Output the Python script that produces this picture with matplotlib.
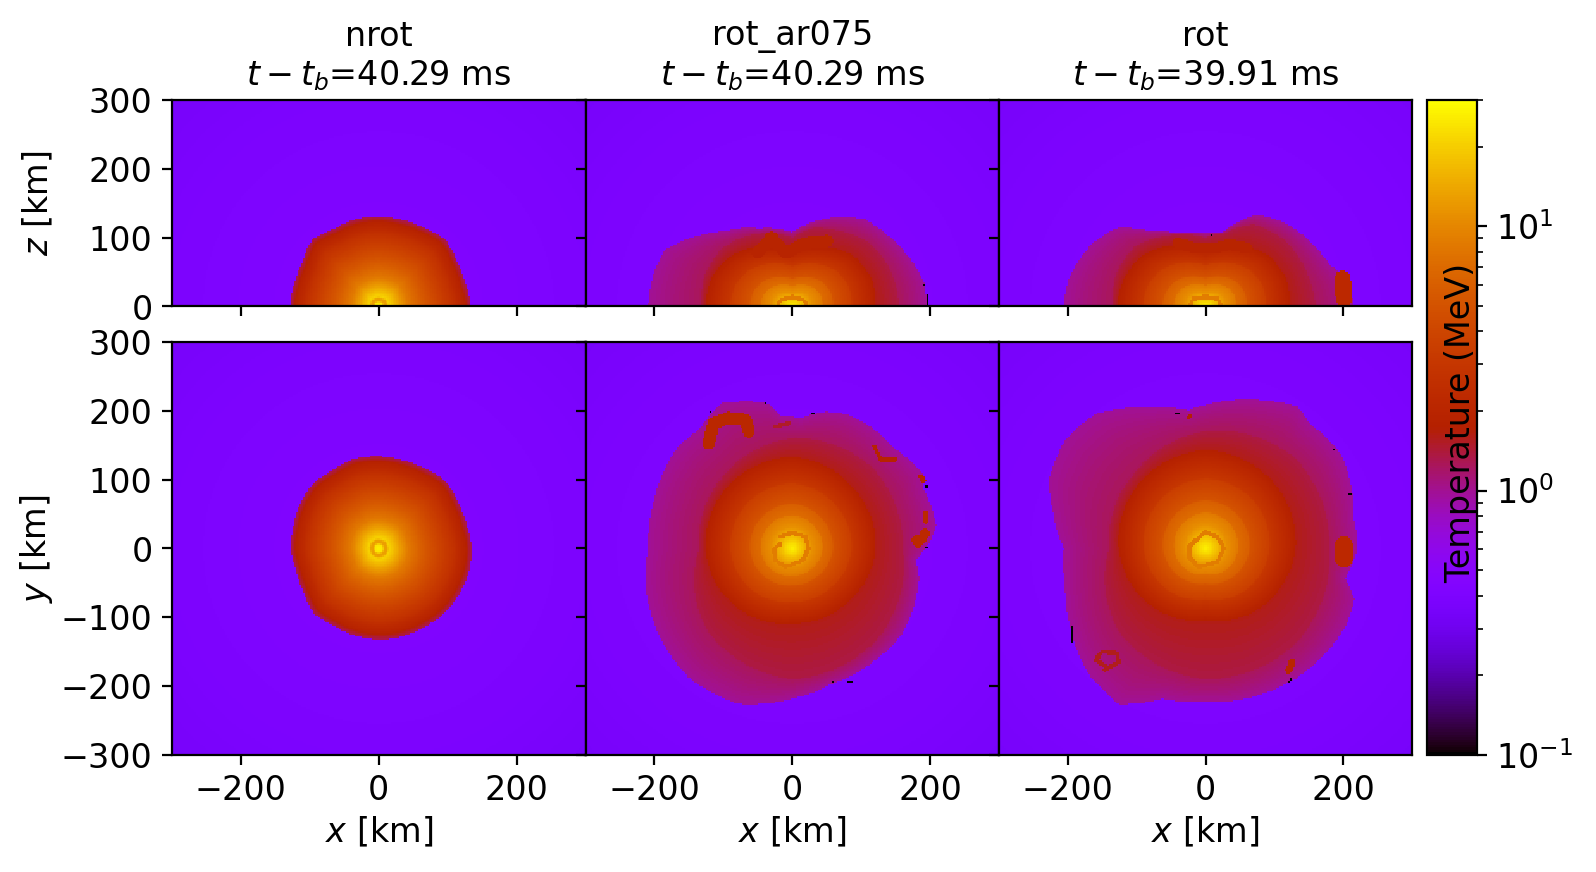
from __future__ import annotations

import numpy as np
import matplotlib
matplotlib.use("Agg")
import matplotlib.pyplot as plt
from matplotlib.colors import LogNorm

# everything below (km, deg, MeV)
run_names = ["nrot", "rot_ar075", "rot"]
bounce_times = [40.29, 40.29, 39.91]

# background temperature against radius
bg_r = [0, 130, 300, 430]
bg_T = [0.43, 0.42, 0.39, 0.35]

# temperature against scaled radius, inside the hot disc
nrot_prof_r = [0, 5, 8, 11, 14, 25, 40, 60, 80, 100, 110, 116, 121, 125]
nrot_prof_T = [27, 24, 13, 13, 21, 14.5, 8.5, 5.6, 3.9, 2.7, 2.1, 1.9, 1.5, 1.3]
rot_prof_r = [0, 8, 20, 30, 45, 46, 60, 62, 88, 90, 105, 118, 125]
rot_prof_T = [27, 22, 15, 11, 8.5, 7.2, 6.0, 5.0, 3.5, 3.0, 2.4, 1.95, 1.75]

# crimson layer and magenta envelope, inner and outer temperature
mid_T = [1.6, 1.35]
env_T = [1.25, 0.98]

# outer edge of each panel
nrot_xy_ang = [0, 15, 30, 45, 60, 75, 90, 105, 120, 135, 150, 165, 180, 195, 210, 225, 240, 255, 270, 285, 300, 315, 330, 345]
nrot_xy_out = [135, 132, 133, 138, 134, 133, 134, 135, 132, 134, 131, 128, 128, 124, 126, 133, 130, 131, 132, 132, 132, 134, 134, 135]
nrot_xz_ang = [0, 15, 30, 45, 60, 75, 90, 105, 120, 135, 150, 165, 180]
nrot_xz_out = [134, 130, 131, 137, 132, 130, 131, 131, 130, 137, 128, 127, 129]

ar075_xy_ang = [0, 9, 24, 30, 44, 57, 67, 76, 86, 95, 100, 116, 128, 138, 162, 180, 196, 214, 231, 251, 270, 286, 305, 322, 347, 355]
ar075_xy_out = [194, 212, 209, 218, 208, 210, 211, 205, 190, 194, 215, 235, 219, 222, 212, 209, 221, 231, 240, 239, 218, 205, 202, 202, 189, 180]
ar075_xz_ang = [0, 10, 25, 38, 50, 73, 90, 113, 132, 144, 156, 167, 180]
ar075_xz_out = [194, 195, 182, 172, 165, 131, 108, 123, 147, 173, 202, 207, 209]

rot_xy_ang = [0, 11, 24, 35, 50, 57, 69, 83, 97, 114, 129, 142, 156, 167, 180, 195, 210, 227, 241, 254, 270, 291, 305, 331, 341, 348]
rot_xy_out = [221, 220, 231, 240, 236, 246, 231, 216, 202, 224, 252, 258, 249, 227, 206, 211, 227, 249, 259, 227, 223, 227, 230, 233, 229, 208]
rot_xz_ang = [0, 9, 19, 30, 46, 61, 77, 90, 112, 127, 139, 151, 169, 180]
rot_xz_out = [216, 211, 190, 180, 168, 152, 111, 106, 115, 138, 173, 188, 203, 206]

# edges of the red disc and the crimson layer
xy_layer_ang = [0, 45, 90, 135, 180, 225, 270, 315]
ar075_xy_hot = [121, 125, 133, 130, 126, 118, 109, 112]
ar075_xy_mid = [160, 165, 160, 145, 135, 172, 190, 180]
rot_xy_hot = [131, 138, 143, 135, 126, 115, 104, 118]
rot_xy_mid = [180, 185, 170, 150, 140, 175, 190, 190]
xz_layer_ang = [0, 20, 40, 60, 75, 90, 105, 120, 140, 160, 180]
ar075_xz_hot = [121, 122, 115, 100, 90, 82, 90, 100, 115, 124, 126]
ar075_xz_mid = [155, 152, 145, 128, 118, 100, 110, 120, 132, 135, 132]
rot_xz_hot = [123, 124, 117, 102, 92, 84, 92, 102, 117, 125, 128]
rot_xz_mid = [160, 155, 150, 138, 110, 100, 108, 118, 135, 138, 135]

# hot swirls: (points, half width, temperature)
ar075_xy_arcs = [
    ([(-17, 17), (0, 23), (19, 17), (24, 0), (15, -17), (-10, -27), (-24, -17), (-27, -2), (-17, 7)], 3, 9),
    ([(-121, 153), (-114, 182), (-92, 190), (-68, 187), (-63, 170)], 9, 2.1),
    ([(-24, 177), (-5, 182)], 3, 1.5),
    ([(119, 148), (129, 129), (150, 129)], 3, 1.9),
    ([(187, 104), (190, 98)], 4, 1.9),
    ([(194, 51), (194, 40)], 4, 2.2),
    ([(180, 12), (183, 8), (193, 22)], 7, 2.2),
]
rot_xy_arcs = [
    ([(-19, 7), (0, 24), (17, 17), (27, 0), (17, -19), (-10, -27), (-24, -12), (-24, 2), (-15, 12)], 3, 9),
    ([(201, 5), (201, -15)], 13, 2.2),
    ([(-146, -170), (-160, -162), (-150, -150), (-128, -152), (-126, -165), (-146, -176)], 3, 1.55),
    ([(121, -177), (126, -165)], 5, 2.0),
    ([(-25, 190), (-22, 192)], 3, 1.7),
]
nrot_xz_arcs = [([(-11, 0), (-8, 8), (0, 11), (8, 8), (11, 0)], 1.5, 13.0)]
ar075_xz_arcs = [
    ([(-22, 0), (-16, 10), (0, 14), (16, 10), (22, 0)], 3, 9),
    ([(-50, 78), (-30, 100), (-10, 78), (20, 92), (50, 95)], 9, 1.95),
]
rot_xz_arcs = [
    ([(-22, 0), (-18, 11), (0, 14), (18, 11), (23, 0)], 3, 9),
    ([(201, 12), (199, 40)], 12, 2.2),
    ([(-40, 92), (-15, 85), (15, 85), (35, 90), (60, 85)], 8, 1.95),
]

# cold cells on the shock edge
ar075_xy_cold = [(29, 197), (32, 197), (-39, 211), (-119, 199), (195, 90), (195, 2), (58, -193), (85, -194), (82, -194)]
rot_xy_cold = [(-194, -115), (-194, -120), (-194, -125), (-194, -130), (-194, -135), (-41, 197), (-44, 197), (-38, 197), (121, -193), (124, -190), (187, 143), (210, 78)]
ar075_xz_cold = [(196, 5), (196, 10), (196, 15), (192, 32)]
rot_xz_cold = [(8, 104)]


def cell_grid(y_low: float) -> tuple[np.ndarray, np.ndarray]:
    xs = np.arange(-300, 300, 2.5) + 1.25
    ys = np.arange(y_low, 300, 2.5) + 1.25
    return np.meshgrid(xs, ys)


def build_field(y_low, ang, out, layer_ang, hot, mid, prof_r, prof_T, arcs=(), cold=()):
    X, Y = cell_grid(y_low)
    r = np.hypot(X, Y)
    th = np.degrees(np.arctan2(Y, X)) % 360
    out_r = np.interp(th, ang, out, period=360)
    hot_r = np.interp(th, layer_ang, hot, period=360)
    mid_r = np.interp(th, layer_ang, mid, period=360)

    T = np.interp(r, bg_r, bg_T)

    # magenta envelope, then crimson layer, then the banded disc
    outer_T = env_T[0] + (env_T[1] - env_T[0]) * np.clip((r - mid_r) / np.maximum(out_r - mid_r, 1), 0, 1)
    inner_T = mid_T[0] + (mid_T[1] - mid_T[0]) * np.clip((r - hot_r) / np.maximum(mid_r - hot_r, 1), 0, 1)
    inside = r < out_r
    T[inside] = outer_T[inside]
    in_mid = inside & (r < mid_r)
    T[in_mid] = inner_T[in_mid]
    in_hot = inside & (r < hot_r)
    s = r * 125 / hot_r
    T[in_hot] = 10 ** np.interp(s[in_hot], prof_r, np.log10(prof_T))

    for pts, half_w, value in arcs:
        for (x0, y0), (x1, y1) in zip(pts[:-1], pts[1:]):
            dx, dy = x1 - x0, y1 - y0
            t = np.clip(((X - x0) * dx + (Y - y0) * dy) / (dx * dx + dy * dy), 0, 1)
            T[np.hypot(X - x0 - t * dx, Y - y0 - t * dy) < half_w] = value

    for cx, cy in cold:
        T[(np.abs(X - cx) <= 1.25) & (np.abs(Y - cy) <= 1.25)] = 0.1
    return X, Y, T


def ax_box(fig, left, top, right, bottom):
    W, H = fig.get_size_inches() * fig.dpi
    return fig.add_axes([left / W, 1 - bottom / H, (right - left) / W, (bottom - top) / H])


fields_top = [
    build_field(0, nrot_xz_ang, nrot_xz_out, nrot_xz_ang, nrot_xz_out, nrot_xz_out, nrot_prof_r, nrot_prof_T, nrot_xz_arcs),
    build_field(0, ar075_xz_ang, ar075_xz_out, xz_layer_ang, ar075_xz_hot, ar075_xz_mid, rot_prof_r, rot_prof_T, ar075_xz_arcs, ar075_xz_cold),
    build_field(0, rot_xz_ang, rot_xz_out, xz_layer_ang, rot_xz_hot, rot_xz_mid, rot_prof_r, rot_prof_T, rot_xz_arcs, rot_xz_cold),
]
fields_bottom = [
    build_field(-300, nrot_xy_ang, nrot_xy_out, nrot_xy_ang, nrot_xy_out, nrot_xy_out, nrot_prof_r, nrot_prof_T),
    build_field(-300, ar075_xy_ang, ar075_xy_out, xy_layer_ang, ar075_xy_hot, ar075_xy_mid, rot_prof_r, rot_prof_T, ar075_xy_arcs, ar075_xy_cold),
    build_field(-300, rot_xy_ang, rot_xy_out, xy_layer_ang, rot_xy_hot, rot_xy_mid, rot_prof_r, rot_prof_T, rot_xy_arcs, rot_xy_cold),
]

plt.rcParams["font.size"] = 12
norm = LogNorm(vmin=0.1, vmax=30)
fig = plt.figure(figsize=(7.98, 4.36), dpi=200)
col_edges = [172, 585.5, 999, 1412]

for i in range(3):
    left, right = col_edges[i], col_edges[i + 1]

    ax = ax_box(fig, left, 100, right, 306.5)
    X, Y, T = fields_top[i]
    mesh = ax.pcolormesh(X, Y, T, cmap="gnuplot", norm=norm, shading="nearest", rasterized=True)
    ax.set_xlim(-300, 300)
    ax.set_ylim(0, 300)
    ax.set_xticks([-200, 0, 200])
    ax.set_yticks([0, 100, 200, 300])
    ax.tick_params(labelbottom=False, labelleft=i == 0)
    ax.set_title(f"{run_names[i]}\n$t-t_b$={bounce_times[i]:.2f} ms", fontsize=12, pad=5.3)
    if i == 0:
        ax.set_ylabel("$z$ [km]")
        ax.yaxis.set_label_coords(-0.282, 0.5)

    ax = ax_box(fig, left, 342, right, 755)
    X, Y, T = fields_bottom[i]
    ax.pcolormesh(X, Y, T, cmap="gnuplot", norm=norm, shading="nearest", rasterized=True)
    ax.set_xlim(-300, 300)
    ax.set_ylim(-300, 300)
    ax.set_xticks([-200, 0, 200])
    ax.set_yticks([-300, -200, -100, 0, 100, 200, 300])
    ax.tick_params(labelleft=i == 0)
    ax.set_xlabel("$x$ [km]", labelpad=2.7)
    if i == 0:
        ax.set_ylabel("$y$ [km]")
        ax.yaxis.set_label_coords(-0.282, 0.5)

cax = ax_box(fig, 1427, 100, 1477, 755)
cbar = fig.colorbar(mesh, cax=cax)
cax.yaxis.set_label_position("left")
cbar.set_label("Temperature (MeV)", labelpad=-18, y=0.507)

fig.savefig("out.png", dpi=200)
